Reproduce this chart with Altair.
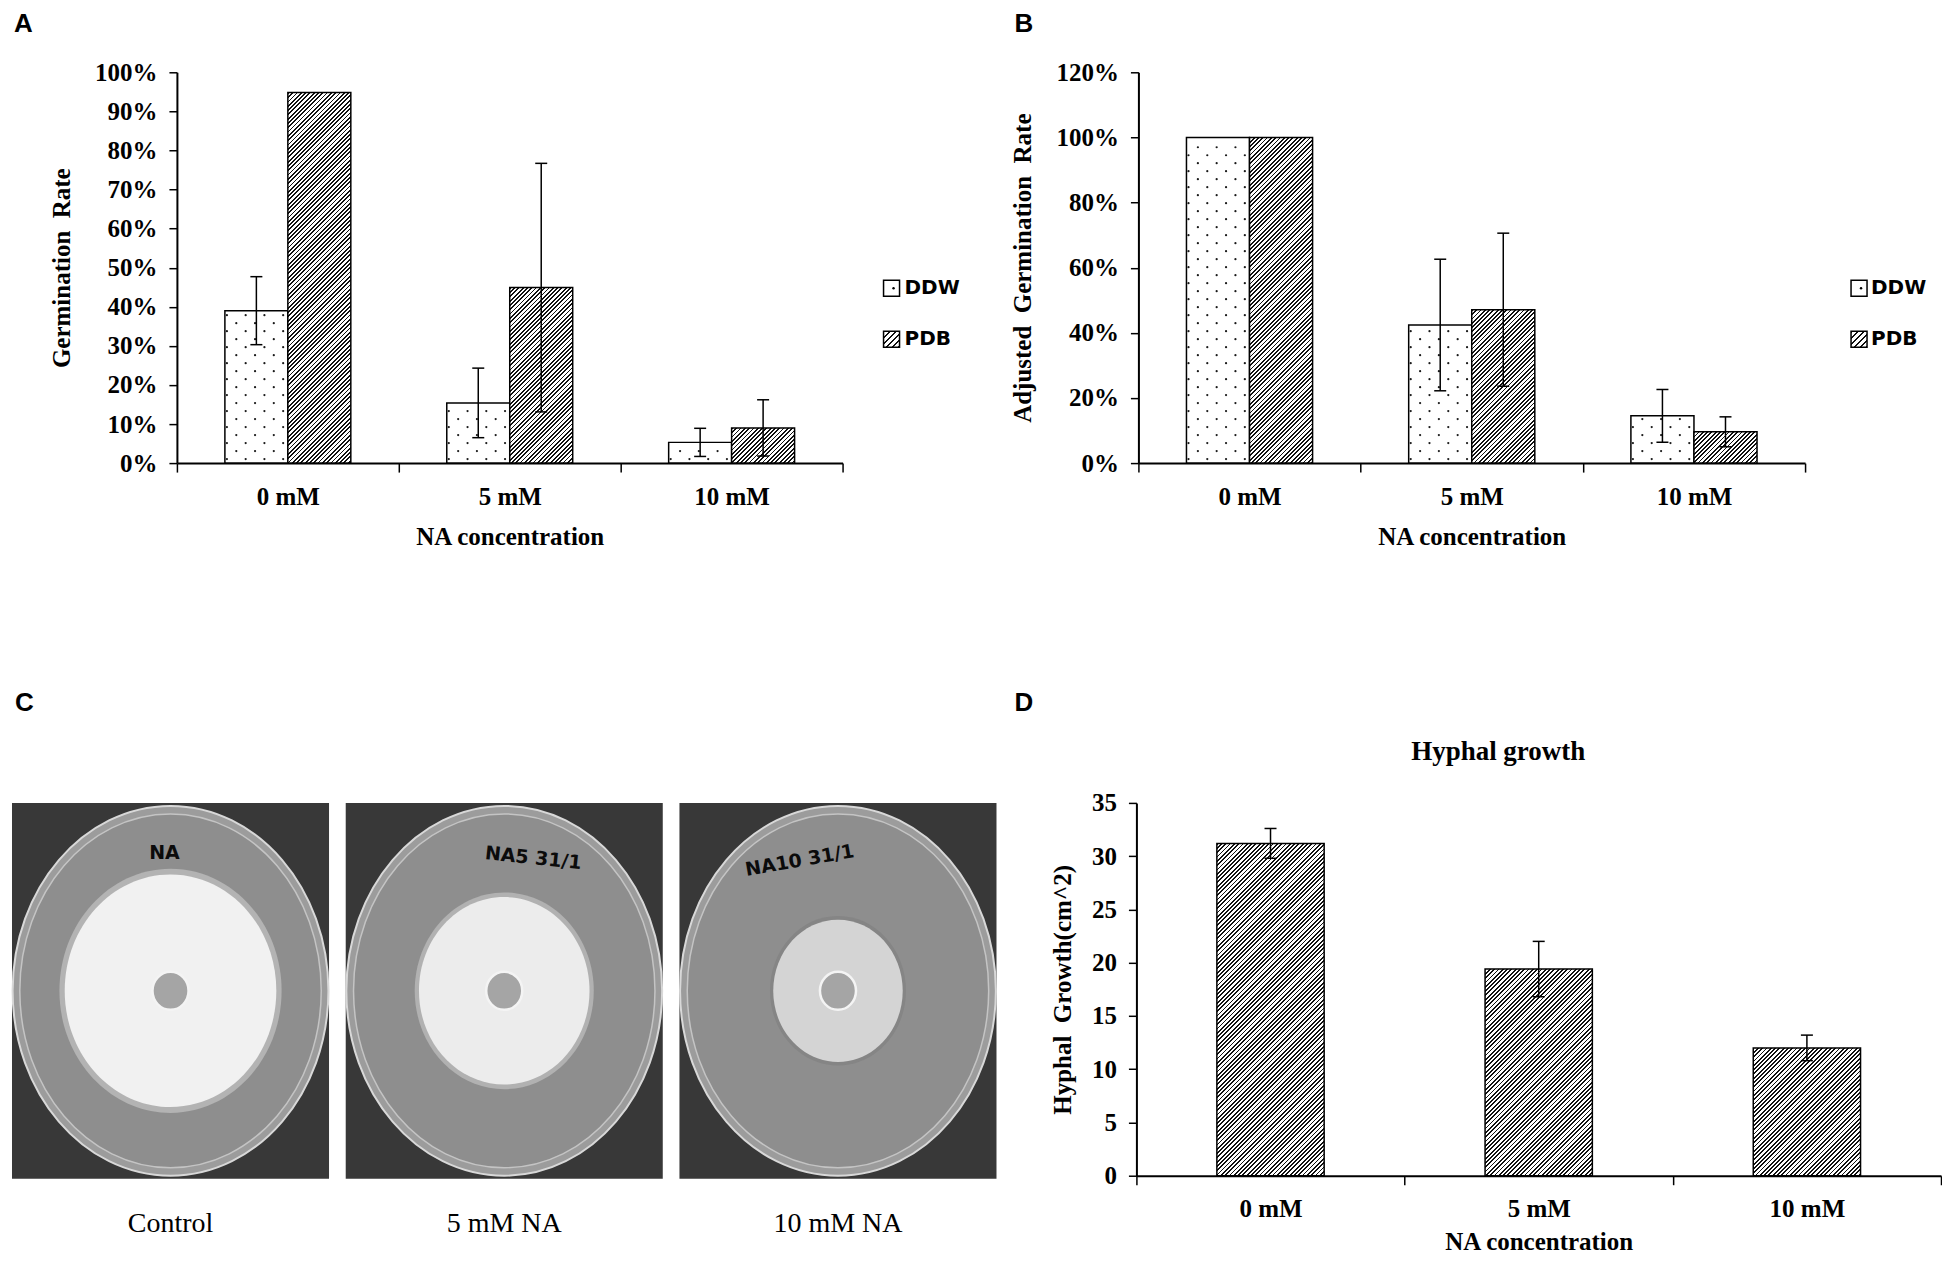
import altair as alt
import pandas as pd

# ------------------------------------------------------------------ data
conc = ["0 mM", "5 mM", "10 mM"]
series = ["DDW", "PDB"]

# A - germination rate (%)
a_ddw = [39.0, 15.4, 5.3]
a_ddw_err = [8.7, 8.9, 3.6]
a_pdb = [94.8, 44.9, 9.0]
a_pdb_err = [0.0, 31.8, 7.2]

# B - adjusted germination rate (%)
b_ddw = [100.0, 42.4, 14.5]
b_ddw_err = [0.0, 20.2, 8.1]
b_pdb = [100.0, 47.1, 9.6]
b_pdb_err = [0.0, 23.5, 4.6]

# D - hyphal growth (cm^2)
d_val = [31.2, 19.4, 12.0]
d_err = [1.4, 2.6, 1.2]

# C - plates (schematic of the photographs)
plates = ["Control", "5 mM NA", "10 mM NA"]
plate_notes = ["NA", "NA5  31/1", "NA10  31/1"]
colony_rel = [0.67, 0.54, 0.41]   # colony diameter / dish diameter

letters = ["A", "B", "C", "D"]

# ------------------------------------------------------------------ layout / style
W_SP, W_A, W_AL, W_B, W_BL = 165, 666, 296, 667, 130
H1 = 391
W_C, H_C = 1125, 376
W_D, H_D = 805, 373
ROW_SP = 141
LETTER_Y1 = -61

SERIF = "Liberation Serif"
SANS = "Liberation Sans"
DARK, LIGHT = "#111111", "#ffffff"
OFF_PAD = 0.762          # outer padding of the series sub-band
SUB_N = 7                # dot sub-columns per bar
SUB_PAD_TOTAL = (SUB_N * (2 + 2 * OFF_PAD) - 2 * SUB_N) / 2
SUB_DUMMY = int(SUB_PAD_TOTAL)
SUB_PAD = SUB_PAD_TOTAL - SUB_DUMMY


def hatch(w, h, period=4.3, dark_frac=0.42):
    """'/' hatching as a hard-stop linear gradient for a w x h box."""
    L = w + h
    k = L / (w * w + h * h)
    p = period / L
    stops = []
    i = 0
    while i * p < 1:
        s = i * p
        m = min(s + dark_frac * p, 1.0)
        e = min((i + 1) * p, 1.0)
        stops += [(s, DARK), (m, DARK), (m, LIGHT), (e, LIGHT)]
        i += 1
    return alt.LinearGradient(
        gradient="linear", x1=0, y1=0, x2=round(w * k, 5), y2=round(h * k, 5),
        stops=[alt.GradientStop(offset=round(o, 5), color=c) for o, c in stops],
    )


def x_axis(**kw):
    return alt.Axis(title="NA concentration", labelAngle=0, tickBand="extent", **kw)


def letter_layer(letter, x, y):
    return alt.Chart(pd.DataFrame({"letter": [letter]})).mark_text(
        align="left", baseline="top", font=SANS, fontWeight="bold", fontSize=26, color="black"
    ).encode(x=alt.value(x), y=alt.value(y), text="letter:N")


def long_df(ddw, ddw_err, pdb, pdb_err):
    rows = []
    for i, c in enumerate(conc):
        rows.append({"conc": c, "series": "DDW", "value": ddw[i], "err": ddw_err[i]})
        rows.append({"conc": c, "series": "PDB", "value": pdb[i], "err": pdb_err[i]})
    return pd.DataFrame(rows)


def dot_df(vals, ymax, H):
    unit = ymax / H
    rows = []
    for c, v in zip(conc, vals):
        hpx = v / unit
        r, ypx = 0, 4.0
        while ypx < hpx - 3:
            cols = range(0, SUB_N, 2) if r % 2 == 0 else range(1, SUB_N, 2)
            for j in cols:
                rows.append({"conc": c, "sub": f"DDW_{j}", "y": ypx * unit})
            r += 1
            ypx += 8.0
    return pd.DataFrame(rows)


def error_layers(df, X, XO, Y):
    eb = alt.Chart(df).transform_filter("datum.err > 0").transform_calculate(
        lo="datum.value - datum.err", hi="datum.value + datum.err")
    rule = eb.mark_rule(color="black", strokeWidth=1.5).encode(
        x=X, xOffset=XO, y=Y("lo"), y2=alt.Y2("hi:Q"))
    caps = eb.transform_fold(["lo", "hi"], as_=["end", "yv"]).mark_tick(
        orient="horizontal", color="black", thickness=1.5, size=12, opacity=1
    ).encode(x=X, xOffset=XO, y=Y("yv"))
    return [rule, caps]


def grouped_panel(ddw, ddw_err, pdb, pdb_err, ymax, ystep, ytitle, width, extra):
    df = long_df(ddw, ddw_err, pdb, pdb_err)
    X = alt.X("conc:N", sort=conc, scale=alt.Scale(domain=conc, paddingInner=0, paddingOuter=0),
              axis=x_axis())
    XO = alt.XOffset("series:N", scale=alt.Scale(domain=series, paddingInner=0, paddingOuter=OFF_PAD))
    ys = alt.Scale(domain=[0, ymax], nice=False)
    ya = alt.Axis(values=list(range(0, ymax + 1, ystep)), labelExpr="datum.value + '%'", title=ytitle)

    def Y(f):
        return alt.Y(f"{f}:Q", scale=ys, axis=ya)

    base = alt.Chart(df)
    layers = [base.transform_filter("datum.series == 'DDW'").mark_bar(
        fill="white", stroke="black", strokeWidth=1.5).encode(x=X, xOffset=XO, y=Y("value"))]
    bar_w = width / 3 / (2 + 2 * OFF_PAD)
    for c, v in zip(conc, pdb):
        layers.append(base.transform_filter(f"datum.series == 'PDB' && datum.conc == '{c}'").mark_bar(
            fill=hatch(bar_w, v / ymax * H1), stroke="black", strokeWidth=1.5
        ).encode(x=X, xOffset=XO, y=Y("value")))
    sub_dom = ([f"padL{j}" for j in range(SUB_DUMMY)]
               + [f"{s}_{j}" for s in series for j in range(SUB_N)]
               + [f"padR{j}" for j in range(SUB_DUMMY)])
    XOd = alt.XOffset("sub:N", scale=alt.Scale(domain=sub_dom, paddingInner=0, paddingOuter=SUB_PAD))
    layers.append(alt.Chart(dot_df(ddw, ymax, H1)).mark_point(
        filled=True, size=5, color="black", opacity=0.9).encode(x=X, xOffset=XOd, y=Y("y")))
    layers += error_layers(df, X, XO, Y)
    layers += extra
    return alt.layer(*layers).resolve_scale(xOffset="independent").properties(width=width, height=H1)


def legend_cell(width, xc, xt):
    ldf = pd.DataFrame({"series": series})
    LY = alt.Y("series:N", scale=alt.Scale(type="point", domain=series, range=[216, 267], padding=0),
               axis=None)
    b = alt.Chart(ldf)
    sw_d = b.transform_filter("datum.series == 'DDW'").mark_square(
        filled=True, size=256, fill="white", stroke="black", strokeWidth=1.5, opacity=1
    ).encode(x=alt.value(xc), y=LY)
    dot = b.transform_filter("datum.series == 'DDW'").mark_point(
        filled=True, size=6, color="black", opacity=1).encode(x=alt.value(xc + 2), y=LY)
    sw_p = b.transform_filter("datum.series == 'PDB'").mark_square(
        filled=True, size=256, fill=hatch(16, 16, period=6, dark_frac=0.35), stroke="black",
        strokeWidth=1.5, opacity=1).encode(x=alt.value(xc), y=LY)
    txt = b.mark_text(align="left", baseline="middle", font="DejaVu Sans", fontWeight="bold",
                      fontSize=20, color="black").encode(x=alt.value(xt), y=LY, text="series:N")
    return alt.layer(sw_d, dot, sw_p, txt).properties(width=width, height=H1)


def ELL(a):
    return f"M {-a} 0 A {a} 1 0 1 0 {a} 0 A {a} 1 0 1 0 {-a} 0 Z"


def plate_panel():
    df = pd.DataFrame({"plate": plates, "note": plate_notes, "colony": colony_rel,
                       "medium": ["PDA"] * 3})
    n, pin, span = 3, 0.05, 985
    step = span / (n - pin)
    pout = (W_C / step - (n - pin)) / 2
    X = alt.X("plate:N", sort=plates,
              scale=alt.Scale(domain=plates, paddingInner=pin, paddingOuter=pout, align=0),
              axis=alt.Axis(title=None, domain=False, ticks=False, labelAngle=0, labelFont=SERIF,
                            labelFontWeight="normal", labelFontSize=28, labelPadding=31))
    Y = alt.Y("medium:N", scale=alt.Scale(paddingInner=0, paddingOuter=0), axis=None)
    base = alt.Chart(df)
    DISH_W, COL_A = 316, 0.91
    bg = base.mark_rect(color="#383838").encode(x=X, y=Y)
    rim = base.mark_point(shape=ELL(0.854), filled=True, fill="#9c9c9c", stroke="#d8d8d8",
                          strokeWidth=2, size=(2 * 185) ** 2, opacity=1).encode(x=X, y=Y)
    agar = base.mark_point(shape=ELL(0.852), filled=True, fill="#8e8e8e", stroke="#c4c4c4",
                           strokeWidth=1.5, size=(2 * 177) ** 2, opacity=1).encode(x=X, y=Y)
    halo = base.transform_calculate(hs=f"pow(datum.colony * {DISH_W} * 1.05 / {COL_A}, 2)").mark_point(
        shape=ELL(COL_A), filled=True, opacity=0.5).encode(
        x=X, y=Y, size=alt.Size("hs:Q", scale=None, legend=None),
        fill=alt.Fill("plate:N", scale=alt.Scale(domain=plates, range=["#d8d8d8", "#d4d4d4", "#7c7c7c"]),
                      legend=None))
    colony = base.transform_calculate(cs=f"pow(datum.colony * {DISH_W} / {COL_A}, 2)").mark_point(
        shape=ELL(COL_A), filled=True, opacity=1).encode(
        x=X, y=Y, size=alt.Size("cs:Q", scale=None, legend=None),
        fill=alt.Fill("plate:N", scale=alt.Scale(domain=plates, range=["#f1f1f1", "#ececec", "#d4d4d4"]),
                      legend=None))
    disc = base.mark_point(shape=ELL(0.95), filled=True, fill="#a5a5a5", stroke="#f4f4f4",
                           strokeWidth=2.5, size=38 ** 2, opacity=1).encode(x=X, y=Y)
    note_style = [(0, -6, -138), (6, 15, -135), (350, -15, -135)]
    notes = []
    for p, (ang, dx, dy) in zip(plates, note_style):
        notes.append(base.transform_filter(f"datum.plate == '{p}'").mark_text(
            font="DejaVu Sans", fontWeight="bold", fontSize=19, color="#0b0b0b",
            angle=ang, dx=dx, dy=dy).encode(x=X, y=Y, text="note:N"))
    return alt.layer(bg, rim, agar, halo, colony, disc, *notes, letter_layer(letters[2], 3, -113)
                     ).resolve_scale(fill="independent").properties(width=W_C, height=H_C)


def hyphal_panel():
    df = pd.DataFrame({"conc": conc, "value": d_val, "err": d_err, "grp": ["HG"] * 3})
    X = alt.X("conc:N", sort=conc, scale=alt.Scale(domain=conc, paddingInner=0, paddingOuter=0),
              axis=x_axis(titlePadding=8))
    XO = alt.XOffset("grp:N", scale=alt.Scale(domain=["HG"], paddingInner=0, paddingOuter=0.75))
    ys = alt.Scale(domain=[0, 35], nice=False)
    ya = alt.Axis(values=list(range(0, 36, 5)), title="Hyphal\u00a0 Growth(cm^2)", titlePadding=16)

    def Y(f):
        return alt.Y(f"{f}:Q", scale=ys, axis=ya)

    base = alt.Chart(df)
    bar_w = W_D / 3 * 0.4
    layers = []
    for c, v in zip(conc, d_val):
        layers.append(base.transform_filter(f"datum.conc == '{c}'").mark_bar(
            fill=hatch(bar_w, v / 35 * H_D), stroke="black", strokeWidth=1.5
        ).encode(x=X, xOffset=XO, y=Y("value")))
    layers += error_layers(df, X, XO, Y)
    title = alt.Chart(pd.DataFrame({"t": ["Hyphal growth"]})).mark_text(
        align="center", baseline="alphabetic", font=SERIF, fontWeight="bold", fontSize=27, color="black"
    ).encode(x=alt.value(362), y=alt.value(-43), text="t:N")
    layers += [title, letter_layer(letters[3], -122, -113)]
    return alt.layer(*layers).properties(width=W_D, height=H_D)


spacer = letter_layer(letters[0], 2, LETTER_Y1).properties(width=W_SP, height=H1)
panel_a = grouped_panel(a_ddw, a_ddw_err, a_pdb, a_pdb_err, 100, 10, "Germination\u00a0 Rate", W_A, [])
leg_a = legend_cell(W_AL, 49, 62)
panel_b = grouped_panel(b_ddw, b_ddw_err, b_pdb, b_pdb_err, 120, 20,
                        "Adjusted\u00a0 Germination\u00a0 Rate", W_B,
                        [letter_layer(letters[1], -124, LETTER_Y1)])
leg_b = legend_cell(W_BL, 54, 66)
panel_c = plate_panel()
panel_d = hyphal_panel()

row1 = alt.hconcat(spacer, panel_a, leg_a, panel_b, leg_b, spacing=0, bounds="flush")
row2 = alt.hconcat(panel_c, panel_d, spacing=0, bounds="flush")

chart = alt.vconcat(row1, row2, spacing=ROW_SP,
                    padding={"top": 3, "left": 0, "right": 0, "bottom": 0}).configure(
    background="white").configure_view(strokeWidth=0).configure_axis(
    domainColor="black", domainWidth=2, tickColor="black", tickWidth=1.5,
    labelColor="black", titleColor="black", labelFont=SERIF, labelFontWeight="bold",
    labelFontSize=25, titleFont=SERIF, titleFontWeight="bold", titleFontSize=25, grid=False,
).configure_axisX(tickSize=9, labelPadding=12, titlePadding=15).configure_axisY(
    tickSize=8, labelPadding=12, titlePadding=20)

chart.save("out.html", embed_options={"renderer": "svg", "actions": False})
